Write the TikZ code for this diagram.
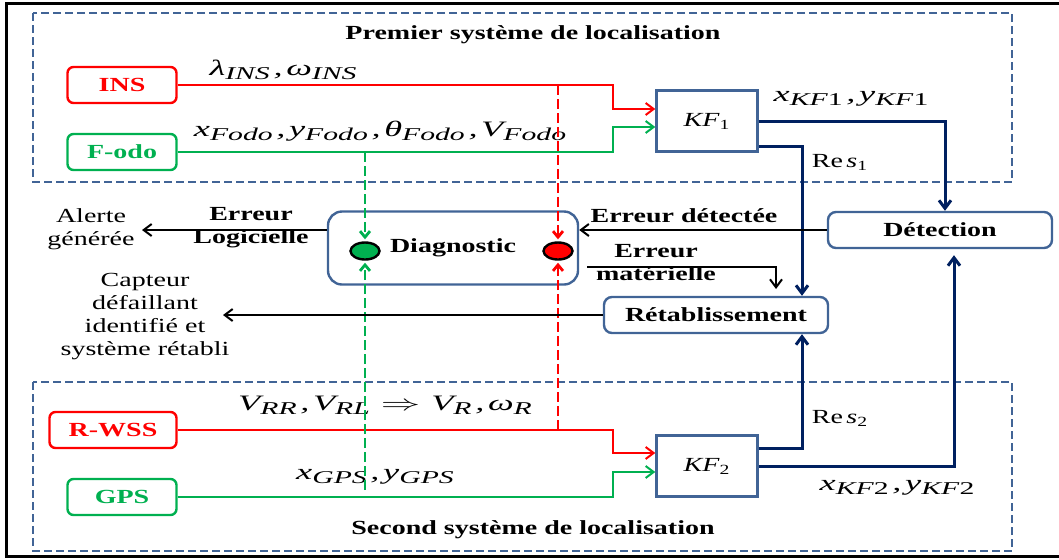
\documentclass[tikz,border=0pt]{standalone}
\usepackage{fontspec}
\setmainfont{Liberation Serif}[FakeStretch=1.4]
\newfontfamily\eqfont{Liberation Serif}[FakeStretch=1.65]
\usepackage{graphicx}
\usepackage{xcolor}
\usepackage{tikz}
\usetikzlibrary{arrows.meta,shapes.geometric,calc}

\definecolor{sysred}{RGB}{255,0,0}
\definecolor{sysgreen}{RGB}{0,176,80}
\definecolor{framebl}{RGB}{65,100,150}
\definecolor{navyln}{RGB}{0,32,96}

% italic label with a lowered index
\newcommand{\idx}[1]{\raisebox{-0.4ex}{\fontsize{9}{9}\selectfont\itshape #1}}

\begin{document}
\begin{tikzpicture}[x=0.5pt,y=-0.5pt,
    font=\fontsize{10}{11.5}\selectfont,
    sensor/.style={draw, rounded corners=3pt, line width=1.2pt, minimum width=54.5pt, minimum height=18pt, font=\fontsize{10}{11.5}\selectfont\bfseries},
    kfbox/.style={draw=framebl, line width=1.2pt, minimum width=50.5pt, minimum height=30.5pt},
    block/.style={draw=framebl, rounded corners=4pt, line width=1.2pt, minimum width=112pt, minimum height=18pt, font=\fontsize{10}{11.5}\selectfont\bfseries},
    lamp/.style={ellipse, draw, line width=1.2pt, minimum width=14.5pt, minimum height=8.5pt, inner sep=0pt},
    feed/.style={line width=1pt, -{Straight Barb[length=4pt,width=6pt]}},
    navfeed/.style={line width=1.5pt, navyln, -{Straight Barb[length=4pt,width=6pt]}},
    dashfeed/.style={line width=1.4pt, dash pattern=on 5pt off 2pt, shorten >=1pt, -{Straight Barb[length=3pt,width=5pt]}},
    sysframe/.style={draw=framebl, line width=1pt, dash pattern=on 4pt off 2pt},
    eqlabel/.style={font=\fontsize{11}{12}\eqfont\itshape}]
\useasboundingbox (0,0) rectangle (1059,559);
\draw[line width=1.5pt] (6,3) rectangle (1070,556);

% TOP: first localisation system
\draw[sysframe] (33,13) rectangle (1012,182);
\node[font=\fontsize{10}{11.5}\selectfont\bfseries] (title1) at (533,35) {Premier système de localisation};
\node[sensor, draw=sysred, text=sysred] (ins) at (122,85) {INS};
\node[sensor, draw=sysgreen, text=sysgreen] (fodo) at (122,152) {F-odo};
\node[kfbox] (kf1) at (707,121) {\textit{KF}\textsubscript{1}};
\node[eqlabel] at (283,70) {λ\idx{INS}\,,\,ω\idx{INS}};
\node[eqlabel] at (380,131) {x\idx{Fodo}\,,\,y\idx{Fodo}\,,\,θ\idx{Fodo}\,,\,V\idx{Fodo}};
\node[eqlabel] at (851,99) {x\idx{KF\textup{1}}\,,\,y\idx{KF\textup{1}}};
\node at (840,162) {Re\,\textit{s}\textsubscript{1}};

% BOTTOM: second localisation system
\draw[sysframe] (33,382) rectangle (1012,551);
\node[font=\fontsize{10}{11.5}\selectfont\bfseries] (title2) at (533,530) {Second système de localisation};
\node[sensor, draw=sysred, text=sysred, minimum width=63.5pt] (rwss) at (113,430) {R-WSS};
\node[sensor, draw=sysgreen, text=sysgreen] (gps) at (122,497) {GPS};
\node[kfbox] (kf2) at (707,466) {\textit{KF}\textsubscript{2}};
\node[eqlabel] at (385,405) {V\idx{RR}\,,\,V\idx{RL}\enspace\scalebox{1.8}[1]{$\Rightarrow$}\enspace V\idx{R}\,,\,ω\idx{R}};
\node[eqlabel] at (375,477) {x\idx{GPS}\,,\,y\idx{GPS}};
\node[eqlabel] at (897,488) {x\idx{KF\textup{2}}\,,\,y\idx{KF\textup{2}}};
\node at (840,418) {Re\,\textit{s}\textsubscript{2}};

% MIDDLE: diagnostic, detection, recovery
\node[block, rounded corners=7pt, minimum width=125pt, minimum height=36.5pt] (diag) at (453,248) {Diagnostic};
\node[lamp, fill=sysgreen] (dotg) at (365,251) {};
\node[lamp, fill=sysred] (dotr) at (558,251) {};
\node[block] (detect) at (940,230) {Détection};
\node[block] (retab) at (716,315) {Rétablissement};
\node[font=\fontsize{10}{11.5}\selectfont\bfseries] at (684,216) {Erreur détectée};
\node[font=\fontsize{10}{11.5}\selectfont\bfseries, align=center] at (656,263) {Erreur\\matérielle};
\node[font=\fontsize{10}{11.5}\selectfont\bfseries, align=center] at (251,228) {Erreur\\Logicielle};
\node[align=center] at (91,229) {Alerte\\générée};
\node[align=center] at (145,317) {Capteur\\défaillant\\identifié et\\système rétabli};

% sensor feeds into the filters
\coordinate (bend) at (613,0);
\draw[feed, sysred] (ins.east) -- (ins.east -| bend) |- ([yshift=6pt]kf1.west);
\draw[feed, sysgreen] (fodo.east) -- (fodo.east -| bend) |- ([yshift=-3pt]kf1.west);
\draw[feed, sysred] (rwss.east) -- (rwss.east -| bend) |- ([yshift=6.5pt]kf2.west);
\draw[feed, sysgreen] (gps.east) -- (gps.east -| bend) |- ([yshift=-3pt]kf2.west);

% filter outputs
\draw[navfeed] (kf1.east) -| ([xshift=2.5pt]detect.north);
\draw[navfeed] ([yshift=-12.5pt]kf1.east) -| ([xshift=43pt]retab.north);
\draw[navfeed] ([yshift=9pt]kf2.east) -| ([xshift=43pt]retab.south);
\draw[navfeed, shorten >=3pt] (kf2.east) -| ([xshift=7pt]detect.south);

% dashed sensor taps to the lamps
\coordinate (gend) at (365,490);
\draw[dashfeed, sysgreen] (fodo.east -| dotg) -- (dotg.north);
\draw[dashfeed, sysgreen] (gend) -- (dotg.south);
\draw[dashfeed, sysred] (ins.east -| dotr) -- (dotr.north);
\draw[dashfeed, sysred] (rwss.east -| dotr) -- (dotr.south);

% error paths
\coordinate (alert) at (142,230);
\coordinate (matA) at (587,267);
\coordinate (matB) at (776,289);
\coordinate (capt) at (223,315);
\draw[feed] (detect.west) -- (detect.west -| diag.east);
\draw[feed] (alert -| diag.west) -- (alert);
\draw[feed] (matA) -| (matB);
\draw[feed] (retab.west) -- (capt);
\end{tikzpicture}
\end{document}
